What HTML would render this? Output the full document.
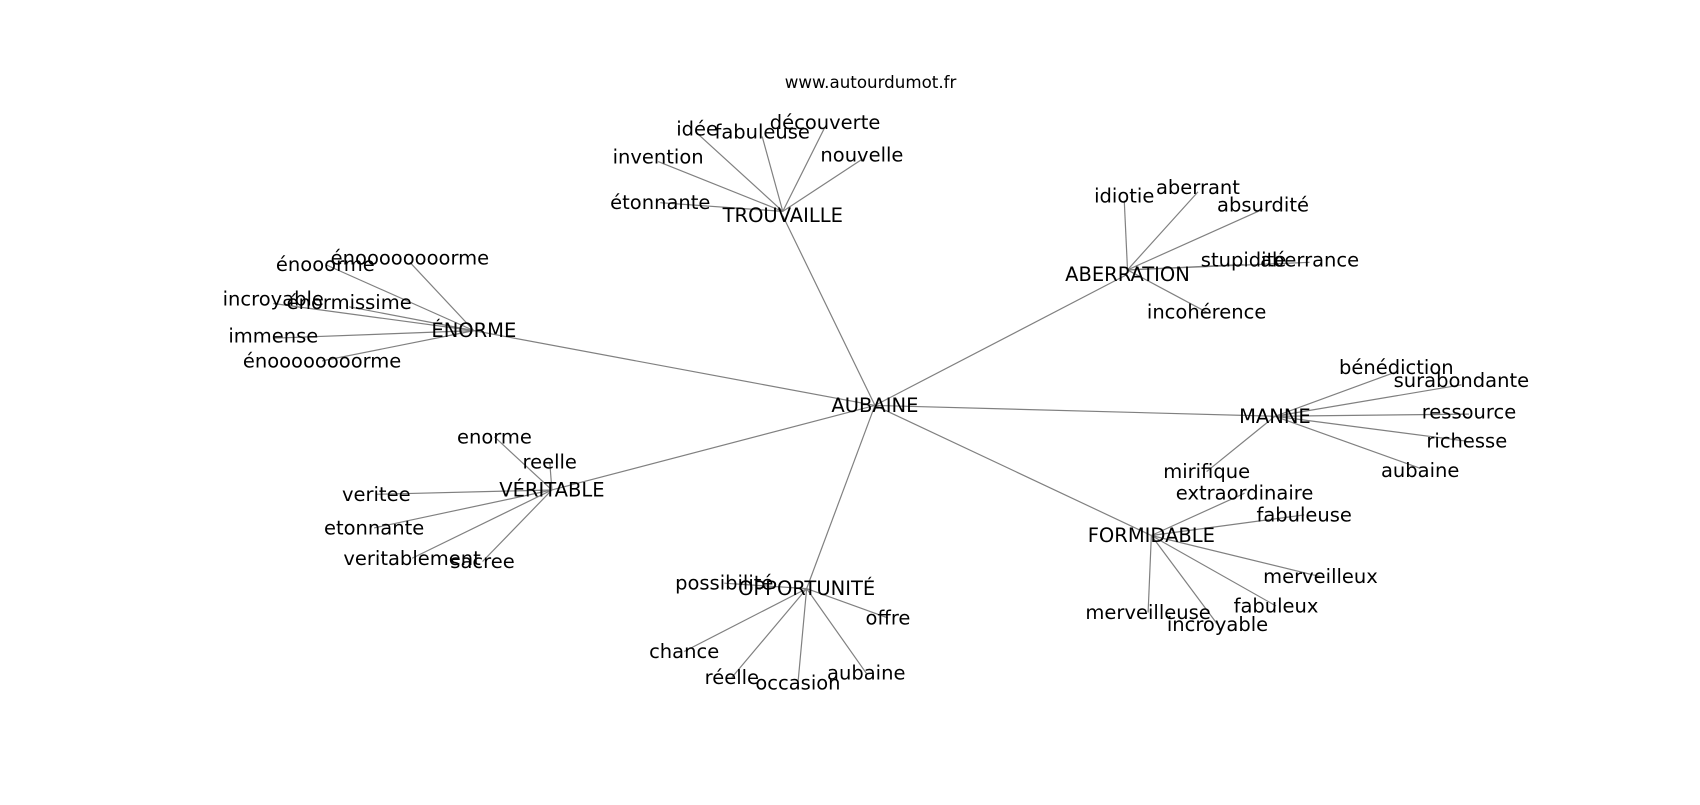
<!DOCTYPE html>
<html><head><meta charset="utf-8"><style>
html,body{margin:0;padding:0;background:#fff;}
svg text{font-family:"DejaVu Sans","Liberation Sans",sans-serif;font-size:18px;fill:#000;}
</style></head><body>
<svg width="1700" height="800" viewBox="0 0 1568 738" xmlns="http://www.w3.org/2000/svg">
<g stroke="#808080" stroke-width="1.1">
<line x1="807" y1="374" x2="722" y2="199"/>
<line x1="807" y1="374" x2="1040" y2="253"/>
<line x1="807" y1="374" x2="437" y2="305"/>
<line x1="807" y1="374" x2="1176" y2="384"/>
<line x1="807" y1="374" x2="509" y2="452"/>
<line x1="807" y1="374" x2="1062" y2="494"/>
<line x1="807" y1="374" x2="744" y2="543"/>
<line x1="722" y1="195" x2="643" y2="123"/>
<line x1="722" y1="195" x2="703" y2="126"/>
<line x1="722" y1="195" x2="761" y2="117"/>
<line x1="722" y1="195" x2="795" y2="147"/>
<line x1="722" y1="195" x2="607" y2="149"/>
<line x1="722" y1="195" x2="609" y2="187"/>
<line x1="1040" y1="249" x2="1037" y2="185"/>
<line x1="1040" y1="249" x2="1105" y2="177"/>
<line x1="1040" y1="249" x2="1165" y2="193"/>
<line x1="1040" y1="249" x2="1147" y2="244"/>
<line x1="1040" y1="249" x2="1208" y2="242"/>
<line x1="1040" y1="249" x2="1113" y2="288"/>
<line x1="437" y1="305" x2="300" y2="244"/>
<line x1="437" y1="305" x2="378" y2="242"/>
<line x1="437" y1="305" x2="252" y2="280"/>
<line x1="437" y1="305" x2="322" y2="283"/>
<line x1="437" y1="305" x2="252" y2="312"/>
<line x1="437" y1="305" x2="297" y2="333"/>
<line x1="1176" y1="384" x2="1288" y2="343"/>
<line x1="1176" y1="384" x2="1348" y2="355"/>
<line x1="1176" y1="384" x2="1355" y2="382"/>
<line x1="1176" y1="384" x2="1353" y2="407"/>
<line x1="1176" y1="384" x2="1310" y2="432"/>
<line x1="1176" y1="384" x2="1113" y2="435"/>
<line x1="509" y1="452" x2="456" y2="403"/>
<line x1="509" y1="452" x2="507" y2="426"/>
<line x1="509" y1="452" x2="347" y2="456"/>
<line x1="509" y1="452" x2="345" y2="487"/>
<line x1="509" y1="452" x2="380" y2="515"/>
<line x1="509" y1="452" x2="445" y2="518"/>
<line x1="1062" y1="494" x2="1148" y2="455"/>
<line x1="1062" y1="494" x2="1203" y2="475"/>
<line x1="1062" y1="494" x2="1218" y2="532"/>
<line x1="1062" y1="494" x2="1177" y2="559"/>
<line x1="1062" y1="494" x2="1123" y2="576"/>
<line x1="1062" y1="494" x2="1059" y2="565"/>
<line x1="744" y1="543" x2="668" y2="538"/>
<line x1="744" y1="543" x2="819" y2="570"/>
<line x1="744" y1="543" x2="631" y2="601"/>
<line x1="744" y1="543" x2="675" y2="625"/>
<line x1="744" y1="543" x2="736" y2="630"/>
<line x1="744" y1="543" x2="799" y2="621"/>
</g>
<g text-anchor="middle" dominant-baseline="central">
<text x="803" y="76" style="font-size:15.4px">www.autourdumot.fr</text>
<text x="807" y="374">AUBAINE</text>
<text x="722" y="199">TROUVAILLE</text>
<text x="643" y="119">idée</text>
<text x="703" y="122">fabuleuse</text>
<text x="761" y="113">découverte</text>
<text x="795" y="143">nouvelle</text>
<text x="607" y="145">invention</text>
<text x="609" y="187">étonnante</text>
<text x="1040" y="253">ABERRATION</text>
<text x="1037" y="181">idiotie</text>
<text x="1105" y="173">aberrant</text>
<text x="1165" y="189">absurdité</text>
<text x="1147" y="240">stupidité</text>
<text x="1208" y="240">aberrance</text>
<text x="1113" y="288">incohérence</text>
<text x="437" y="305">ÉNORME</text>
<text x="300" y="244">énooorme</text>
<text x="378" y="238">énoooooooorme</text>
<text x="252" y="276">incroyable</text>
<text x="322" y="279">énormissime</text>
<text x="252" y="310">immense</text>
<text x="297" y="333">énoooooooorme</text>
<text x="1176" y="384">MANNE</text>
<text x="1288" y="339">bénédiction</text>
<text x="1348" y="351">surabondante</text>
<text x="1355" y="380">ressource</text>
<text x="1353" y="407">richesse</text>
<text x="1310" y="434">aubaine</text>
<text x="1113" y="435">mirifique</text>
<text x="509" y="452">VÉRITABLE</text>
<text x="456" y="403">enorme</text>
<text x="507" y="426">reelle</text>
<text x="347" y="456">veritee</text>
<text x="345" y="487">etonnante</text>
<text x="380" y="515">veritablement</text>
<text x="445" y="518">sacree</text>
<text x="1062" y="494">FORMIDABLE</text>
<text x="1148" y="455">extraordinaire</text>
<text x="1203" y="475">fabuleuse</text>
<text x="1218" y="532">merveilleux</text>
<text x="1177" y="559">fabuleux</text>
<text x="1123" y="576">incroyable</text>
<text x="1059" y="565">merveilleuse</text>
<text x="744" y="543">OPPORTUNITÉ</text>
<text x="668" y="538">possibilité</text>
<text x="819" y="570">offre</text>
<text x="631" y="601">chance</text>
<text x="675" y="625">réelle</text>
<text x="736" y="630">occasion</text>
<text x="799" y="621">aubaine</text>
</g>
</svg>
</body></html>
